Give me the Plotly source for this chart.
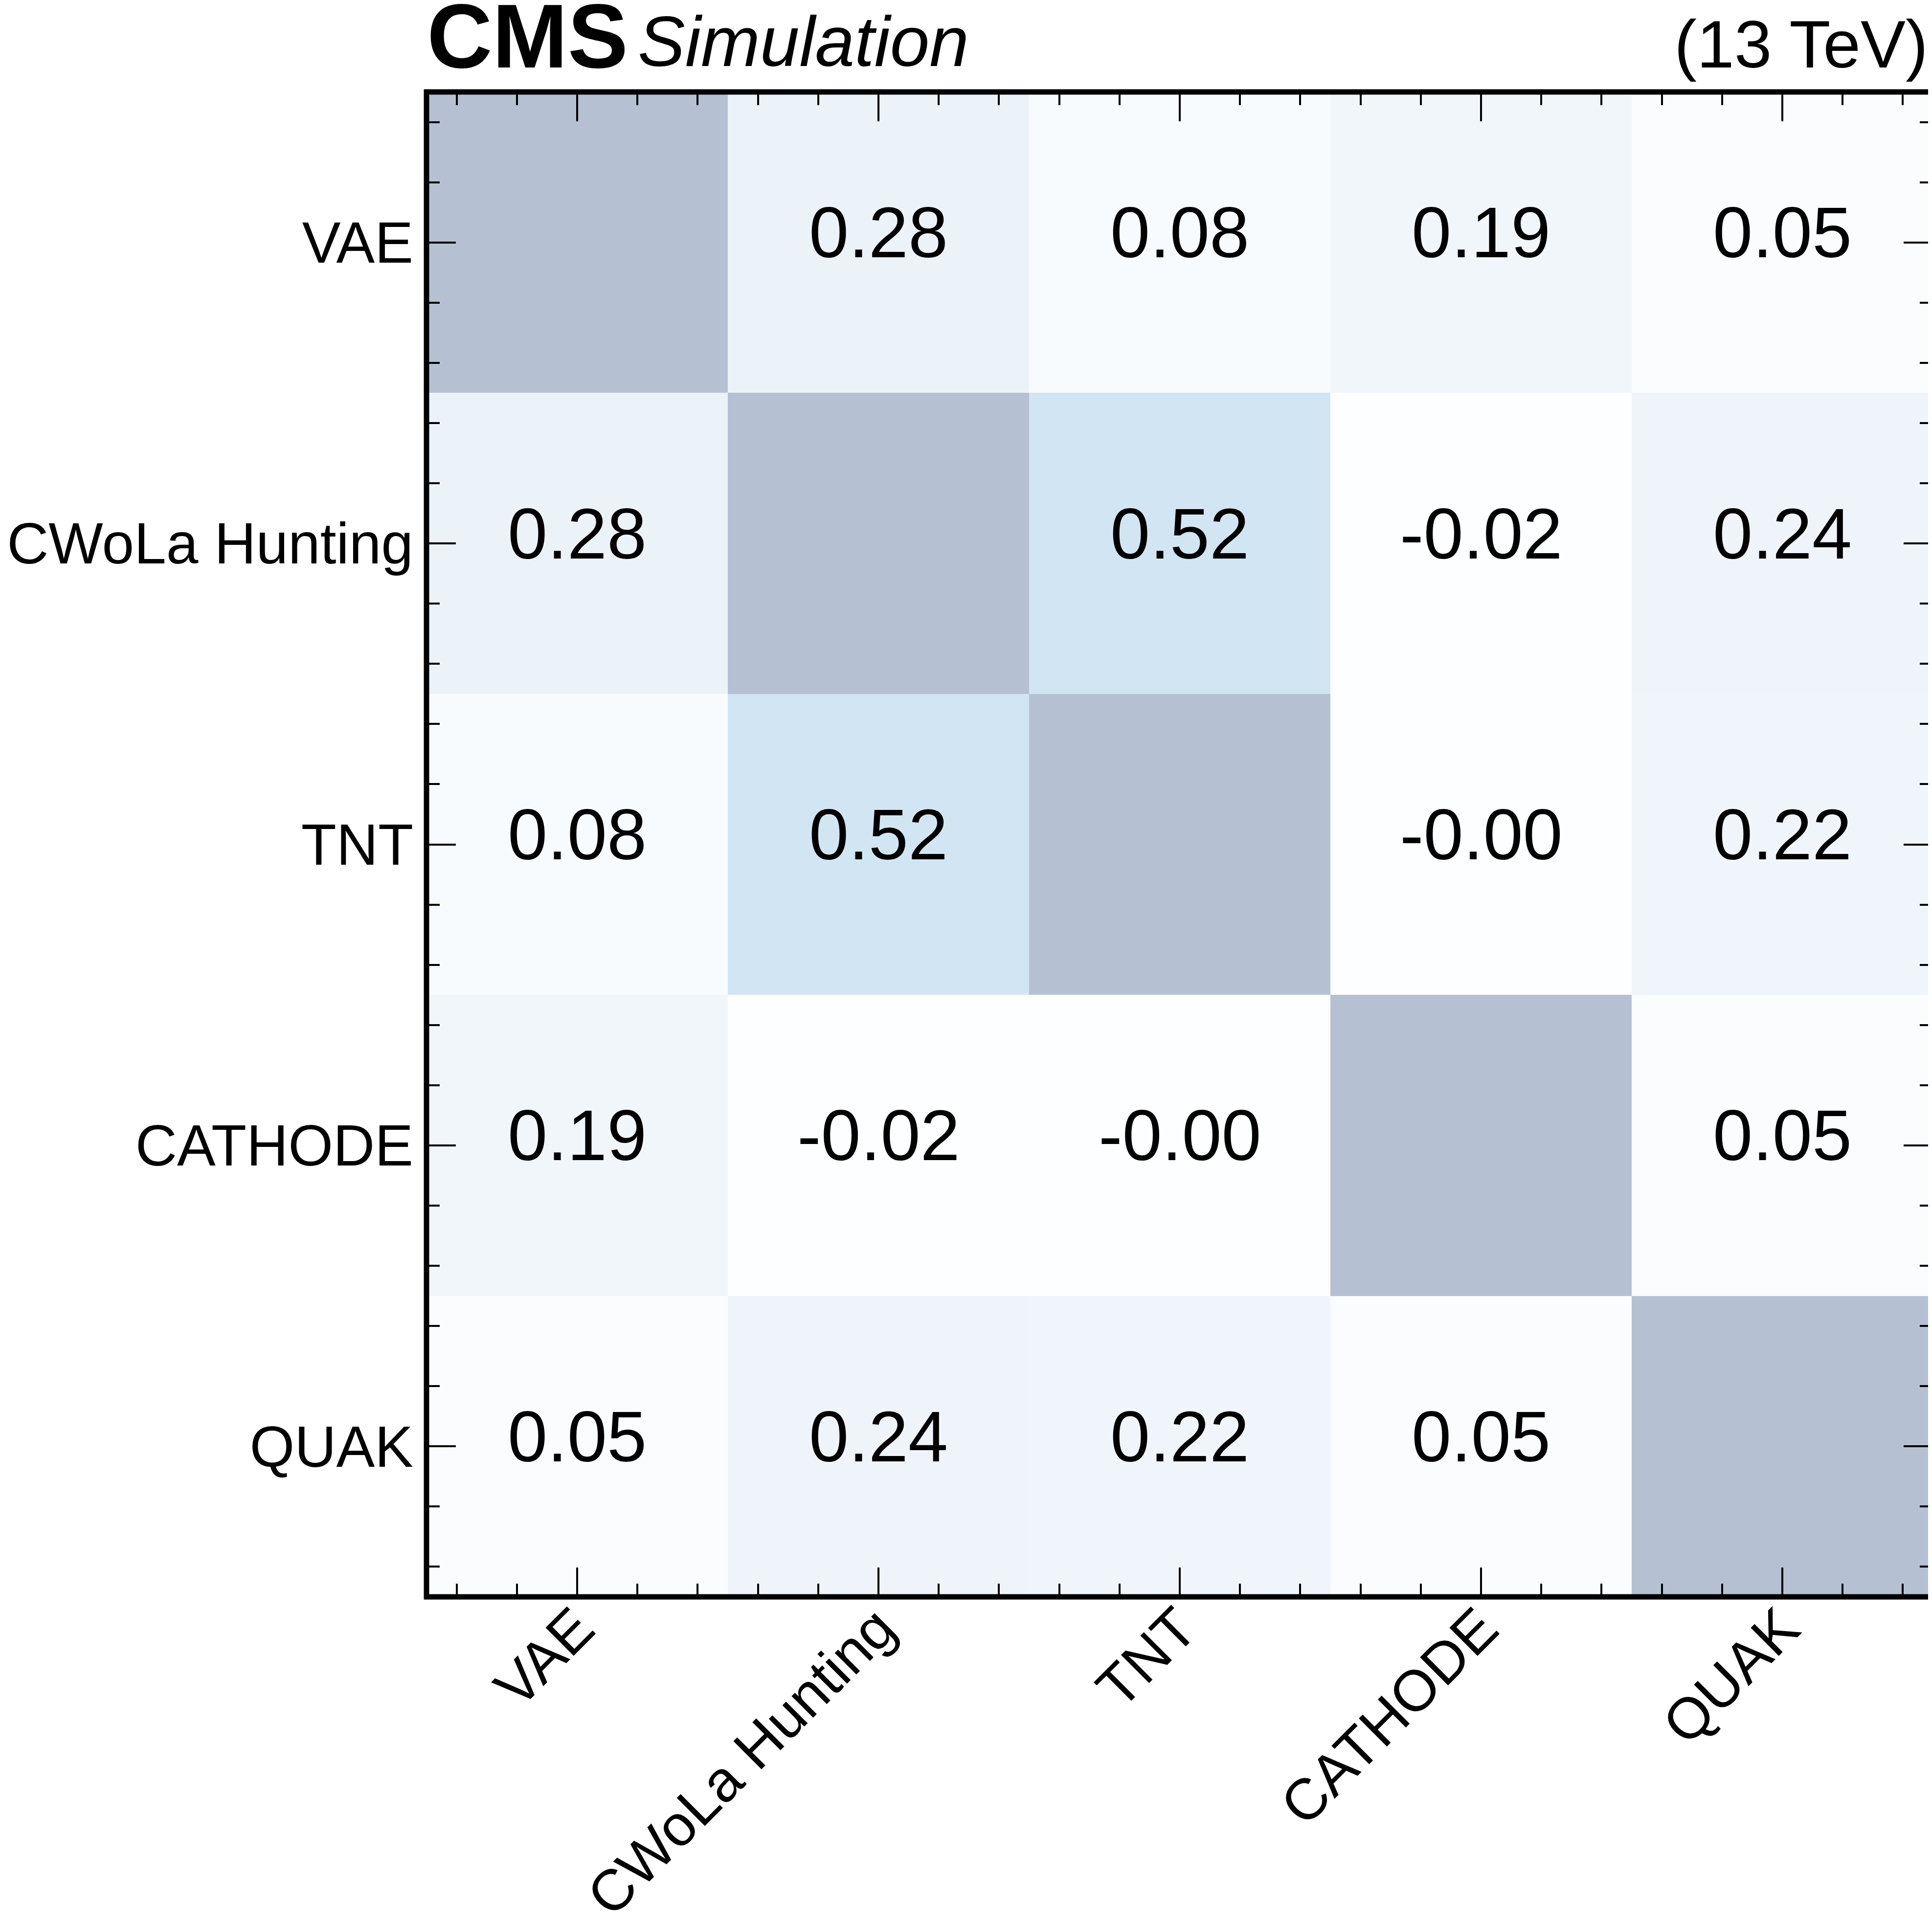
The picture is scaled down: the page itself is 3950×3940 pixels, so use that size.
import plotly.graph_objects as go

# ---- data ----
methods = ["VAE", "CWoLa Hunting", "TNT", "CATHODE", "QUAK"]
row_vae = [1.00, 0.28, 0.08, 0.19, 0.05]
row_cwola = [0.28, 1.00, 0.52, -0.02, 0.24]
row_tnt = [0.08, 0.52, 1.00, -0.001, 0.22]
row_cathode = [0.19, -0.02, -0.001, 1.00, 0.05]
row_quak = [0.05, 0.24, 0.22, 0.05, 1.00]
corr = [row_vae, row_cwola, row_tnt, row_cathode, row_quak]

# matplotlib "Blues" drawn with alpha 0.3 on white
blues = ["#f7fbff", "#deebf7", "#c6dbef", "#9ecae1", "#6baed6",
         "#4292c6", "#2171b5", "#08519c", "#08306b"]
ALPHA = 0.3


def blend(hexc):
    h = hexc.lstrip("#")
    r, g, b = (int(h[i:i + 2], 16) for i in (0, 2, 4))
    f = lambda c: round(255 - ALPHA * (255 - c))
    return f"rgb({f(r)},{f(g)},{f(b)})"


colorscale = [[i / (len(blues) - 1), blend(c)] for i, c in enumerate(blues)]

n = len(methods)
idx = list(range(n))

W, H = 3950, 3940
L, R, T, B = 864, 6, 180, 683
pw = W - L - R
ph = H - T - B

fig = go.Figure(
    go.Heatmap(
        z=corr, x=idx, y=idx,
        colorscale=colorscale, zmin=0, zmax=1, showscale=False,
        hoverinfo="skip",
    )
)

# cell labels (off-diagonal), placed at the cell's data coordinates
for i in range(n):
    for j in range(n):
        if i == j:
            continue
        fig.add_annotation(x=j, y=i, xref="x", yref="y", text=f"{corr[i][j]:.2f}",
                           showarrow=False, yshift=20,
                           font=dict(family="Liberation Sans", size=146, color="black"))

axis_common = dict(
    showline=False, mirror="ticks",
    ticks="inside", ticklen=60, tickwidth=4, tickcolor="black",
    showgrid=False, zeroline=False, automargin=False,
    tickfont=dict(family="Liberation Sans", size=118, color="black"),
    minor=dict(ticks="inside", ticklen=27, tickwidth=4, tickcolor="black",
               dtick=0.2, tick0=0, showgrid=False),
)

fig.update_xaxes(tickvals=idx, ticktext=methods, range=[-0.5, n - 0.5],
                 tickangle=-45, ticklabelstandoff=-30, **axis_common)
fig.update_yaxes(tickvals=idx, ticktext=methods, range=[n - 0.5, -0.5],
                 ticklabelstandoff=26, **axis_common)

# frame centred on the plot-area edges
fig.add_shape(type="rect", xref="paper", yref="paper", x0=0, x1=1, y0=0, y1=1,
              line=dict(color="black", width=11), fillcolor="rgba(0,0,0,0)", layer="above")


def px_x(x):
    return (x - L) / pw


def px_y(y):
    return (H - B - y) / ph


fig.add_annotation(text="CMS", xref="paper", yref="paper",
                   x=px_x(863), y=px_y(66), xanchor="left", yanchor="middle",
                   showarrow=False,
                   font=dict(family="Liberation Sans", size=185, color="black", weight="bold"))
fig.add_annotation(text="Simulation", xref="paper", yref="paper",
                   x=px_x(1294), y=px_y(77), xanchor="left", yanchor="middle",
                   showarrow=False,
                   font=dict(family="Liberation Sans", size=145, color="black", style="italic"))
fig.add_annotation(text="(13 TeV)", xref="paper", yref="paper",
                   x=px_x(3936), y=px_y(82), xanchor="right", yanchor="middle",
                   showarrow=False,
                   font=dict(family="Liberation Sans", size=138, color="black"))

fig.update_layout(
    width=W, height=H,
    margin=dict(l=L, r=R, t=T, b=B, pad=0, autoexpand=False),
    paper_bgcolor="white", plot_bgcolor="white",
    showlegend=False,
)

fig.write_html("out.html")
